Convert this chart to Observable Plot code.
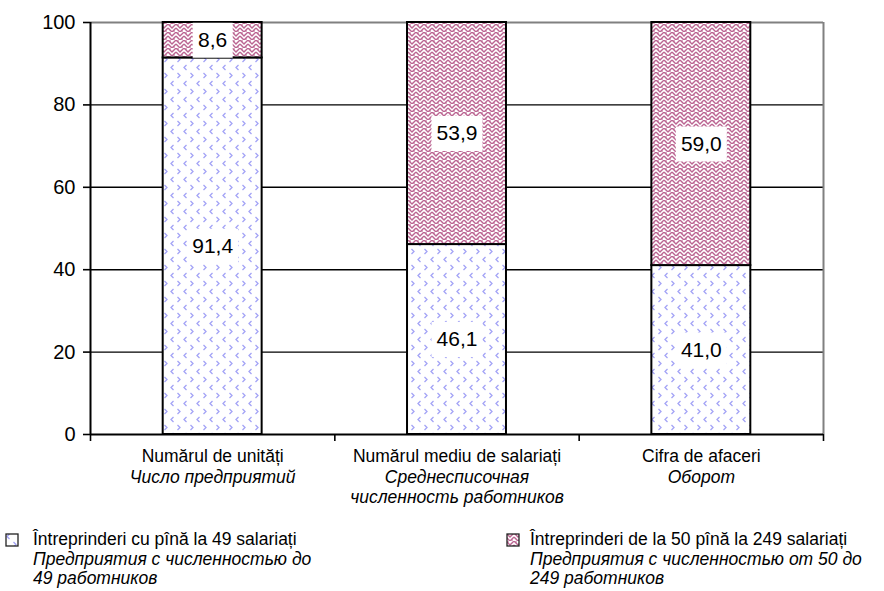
<!DOCTYPE html>
<html><head><meta charset="utf-8">
<script src="https://cdn.jsdelivr.net/npm/d3@7"></script>
<script src="https://cdn.jsdelivr.net/npm/@observablehq/plot@0.6"></script>
<style>
body{margin:0;background:#fff;font-family:"Liberation Sans",Arial,sans-serif;}
#chart{width:884px;height:520px;}
#legend{position:relative;width:884px;height:71px;font-size:17.5px;line-height:19.5px;color:#000;}
.txt{position:absolute;top:10px;white-space:nowrap;}
.sw{position:absolute;}
</style></head><body>
<svg width="0" height="0" style="position:absolute">
<defs>
<pattern id="pBlue" patternUnits="userSpaceOnUse" width="13" height="16">
 <rect width="13" height="16" fill="#fff"/>
 <path d="M4.5,1 L2,3.5 L4.5,6" fill="none" stroke="#a3a3f6" stroke-width="1.3"/>
 <path d="M8.5,9 L11,11.5 L8.5,14" fill="none" stroke="#a3a3f6" stroke-width="1.3"/>
</pattern>
<pattern id="pPink" patternUnits="userSpaceOnUse" width="8" height="8">
 <rect width="8" height="8" fill="#fff"/>
 <path d="M0,0 L4,4 L8,0 M0,4 L4,8 L8,4" fill="none" stroke="#bb6592" stroke-width="1.4"/>
 <path d="M2,2 L2,0 M6,6 L6,8" fill="none" stroke="#bb6592" stroke-width="1"/>
</pattern>
</defs></svg>
<div id="chart"></div>
<div id="legend">
 <svg class="sw" style="left:5px;top:13px" width="14" height="14"><rect x="1" y="1" width="12" height="12" fill="url(#pBlue)" stroke="#222" stroke-width="1.3"/></svg>
 <div class="txt" style="left:33px">Întreprinderi cu pînă la 49 salariați<br><i>Предприятия с численностью до<br>49 работников</i></div>
 <svg class="sw" style="left:506px;top:13px" width="14" height="14"><rect x="1" y="1" width="12" height="12" fill="url(#pPink)" stroke="#222" stroke-width="1.3"/></svg>
 <div class="txt" style="left:530px">Întreprinderi de la 50 pînă la 249 salariați<br><i>Предприятия с численностью от 50 до<br>249 работников</i></div>
</div>
<script>
const categoriesRo = ["Numărul de unități", "Numărul mediu de salariați", "Cifra de afaceri"];
const categoriesRu = ["Число предприятий", "Среднесписочная\nчисленность работников", "Оборот"];
const smallShare = [91.4, 46.1, 41.0];   // up to 49 employees
const mediumShare = [8.6, 53.9, 59.0];   // 50 to 249 employees
const yTicks = [0, 20, 40, 60, 80, 100];
const gridTicks = [20, 40, 60, 80];
const boundaries = [0, 1, 2, 3];

const fmt = v => v.toFixed(1).replace(".", ",");
const half = 0.2025;
const rows = categoriesRo.map((c, i) => ({
  i, ro: c, ru: categoriesRu[i],
  small: smallShare[i], medium: mediumShare[i]
}));
const labels = rows.flatMap(d => [
  {i: d.i, y: d.small / 2, text: fmt(d.small)},
  {i: d.i, y: d.small + d.medium / 2, text: fmt(d.medium)}
]);
const labelBox = {
  draw(ctx, size) {
    const r = Math.sqrt(size / Math.PI);
    const w = r * 11 + 7, h = 35;
    ctx.rect(-w / 2, -h / 2, w, h);
  }
};
const font = '"Liberation Sans", Arial, sans-serif';

const plot = Plot.plot({
  width: 884, height: 520,
  marginLeft: 90, marginRight: 61, marginTop: 22, marginBottom: 86,
  style: {fontFamily: font, background: "#fff", color: "#000", overflow: "visible"},
  x: {domain: [0, 3]},
  y: {domain: [0, 100]},
  r: {type: "identity"},
  marks: [
    Plot.gridY(gridTicks, {stroke: "#000", strokeOpacity: 1, strokeWidth: 1.4}),
    Plot.ruleY([100], {stroke: "#808080", strokeWidth: 2}),
    Plot.ruleX([3], {y1: 0, y2: 100, stroke: "#808080", strokeWidth: 2}),
    Plot.rectY(rows, {x1: d => d.i + 0.5 - half, x2: d => d.i + 0.5 + half, y1: 0, y2: "small",
      fill: "url(#pBlue)", stroke: "#000", strokeWidth: 2}),
    Plot.rectY(rows, {x1: d => d.i + 0.5 - half, x2: d => d.i + 0.5 + half, y1: "small", y2: d => d.small + d.medium,
      fill: "url(#pPink)", stroke: "#000", strokeWidth: 2}),
    Plot.dot(labels, {x: d => d.i + 0.5, y: "y", r: d => d.text.length, symbol: labelBox, fill: "#fff", stroke: "none"}),
    Plot.text(labels, {x: d => d.i + 0.5, y: "y", text: "text", fontSize: 21, fill: "#000"}),
    Plot.ruleY([0], {stroke: "#000", strokeWidth: 2}),
    Plot.ruleX([0], {y1: 0, y2: 100, stroke: "#000", strokeWidth: 2}),
    Plot.axisY({ticks: yTicks, tickSize: 7, tickPadding: 8, fontSize: 20, stroke: "#000", strokeWidth: 1.6, label: null}),
    Plot.axisX({ticks: boundaries, tickSize: 7, tickFormat: () => "", stroke: "#000", strokeWidth: 1.6, label: null}),
    Plot.text(rows, {x: d => d.i + 0.5, y: 0, text: "ro", dy: 15, lineAnchor: "top", fontSize: 17.5, fill: "#000"}),
    Plot.text(rows, {x: d => d.i + 0.5, y: 0, text: "ru", dy: 35, lineAnchor: "top", lineHeight: 1.12, fontSize: 17.5, fontStyle: "italic", fill: "#000"})
  ]
});
document.getElementById("chart").appendChild(plot);
</script>
</body></html>
